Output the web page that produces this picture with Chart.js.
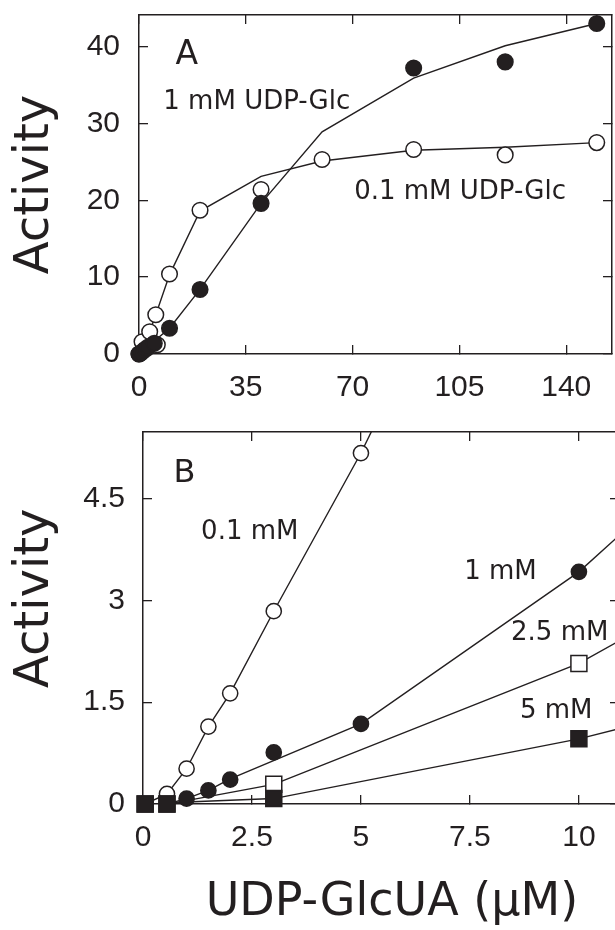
<!DOCTYPE html>
<html>
<head>
<meta charset="utf-8">
<script src="https://cdn.jsdelivr.net/npm/chart.js@4/dist/chart.umd.min.js"></script>
<style>
html, body { margin: 0; padding: 0; background: #fff; overflow: hidden; width: 615px; height: 930px; }
canvas { position: absolute; left: 0; }
#chartA { top: 0; }
#chartB { top: 420px; }
</style>
</head>
<body>
<canvas id="chartA" width="630" height="420"></canvas>
<canvas id="chartB" width="630" height="510"></canvas>
<script>
// ---- panel A : UDP-GlcUA up to 150 uM
var xTicksA = [0, 35, 70, 105, 140]
var yTicksA = [0, 10, 20, 30, 40]

// 1 mM UDP-Glc (filled circles)
var aFilledX = [0, 0.5, 1, 2, 3, 5, 10, 20, 40, 90, 120, 150]
var aFilledY = [0, 0.1, 0.3, 0.6, 0.9, 1.4, 3.35, 8.4, 19.6, 37.2, 38.0, 43.0]
var aFilledFitX = [0, 10, 20, 40, 60, 90, 120, 150]
var aFilledFitY = [0, 3.35, 8.4, 19.6, 28.9, 35.9, 40.1, 43.0]

// 0.1 mM UDP-Glc (open circles)
var aOpenX = [0, 1, 3.5, 5.5, 6, 10, 20, 40, 60, 90, 120, 150]
var aOpenY = [0, 1.6, 2.9, 5.1, 1.2, 10.4, 18.7, 21.4, 25.3, 26.6, 25.9, 27.5]
var aOpenFitX = [0, 1, 3.5, 5.5, 10, 20, 40, 60, 90, 120, 150]
var aOpenFitY = [0, 1.6, 2.9, 5.1, 10.3, 18.6, 23.1, 25.1, 26.5, 26.9, 27.5]

// ---- panel B : low UDP-GlcUA
var xTicksB = [0, 2.5, 5, 7.5, 10]
var yTicksB = [0, 1.5, 3, 4.5]

// 0.1 mM (open circles)
var b01X = [0.55, 1, 1.5, 2, 3, 5]
var b01Y = [0.15, 0.52, 1.14, 1.63, 2.84, 5.17]
var b01FitX = [0.05, 0.55, 1, 1.5, 2, 3, 5, 7]
var b01FitY = [0, 0.15, 0.52, 1.14, 1.63, 2.84, 5.17, 7.8]

// 1 mM (filled circles)
var b1X = [1, 1.5, 2, 3, 5, 10]
var b1Y = [0.08, 0.2, 0.36, 0.76, 1.18, 3.42]
var b1FitX = [0.05, 0.55, 1, 1.5, 2, 5, 10, 11]
var b1FitY = [0, 0, 0.08, 0.2, 0.37, 1.18, 3.42, 4.0]

// 2.5 mM (open squares)
var b25X = [0.05, 0.55, 3, 10]
var b25Y = [0, 0, 0.29, 2.07]
var b25FitX = [0.05, 0.55, 1, 3, 10, 11]
var b25FitY = [0, 0, 0.05, 0.29, 2.07, 2.43]

// 5 mM (filled squares)
var b5X = [0.05, 0.55, 3, 10]
var b5Y = [0, 0, 0.08, 0.96]
var b5FitX = [0.05, 0.55, 1, 3, 10, 11]
var b5FitY = [0, 0, 0.03, 0.08, 0.96, 1.12]

var ink = '#231f20'
var tickFont = { family: 'Liberation Sans', size: 30 }

function pts(xs, ys) {
	return xs.map(function (x, i) { return { x: x, y: ys[i] } })
}
//markers only
function marks(xs, ys, style, fill, r) {
	return {
		data: pts(xs, ys), showLine: false, clip: false,
		pointStyle: style, pointRadius: r, pointHoverRadius: r,
		pointBackgroundColor: fill, pointBorderColor: ink, pointBorderWidth: 1.5
	}
}
//fitted line, no markers
function fit(xs, ys) {
	return {
		data: pts(xs, ys), showLine: true, clip: 0,
		borderColor: ink, borderWidth: 1.4, pointRadius: 0, pointHoverRadius: 0, tension: 0
	}
}

function axis(pos, min, max, list, size, labels, pad, title) {
	var horiz = pos == 'top' || pos == 'bottom'
	return {
		type: 'linear', position: pos, min: min, max: max,
		afterBuildTicks: function (s) { s.ticks = list.map(function (v) { return { value: v } }) },
		afterFit: function (s) {
			if (horiz) s.height = size; else s.width = size
			// keep the plot box where it is, labels may overhang
			s.paddingTop = s.paddingBottom = s.paddingLeft = s.paddingRight = 0
		},
		grid: { drawOnChartArea: false, drawTicks: true, tickLength: -9, color: ink, lineWidth: 1.3 },
		border: { display: true, color: ink, width: 1.5 },
		ticks: {
			display: labels, padding: pad, font: tickFont, color: ink,
			autoSkip: false, maxRotation: 0, callback: function (v) { return String(v) }
		},
		title: title || { display: false }
	}
}

function titleOpt(text, size, pad) {
	return { display: true, text: text, color: ink, font: { family: 'DejaVu Sans', size: size, lineHeight: 1 }, padding: pad }
}

//free text drawn at data positions (optional rotation in degrees)
function notes(list) {
	return {
		id: 'notes',
		afterDatasetsDraw: function (chart) {
			var ctx = chart.ctx
			list.forEach(function (n) {
				ctx.save()
				ctx.fillStyle = ink
				ctx.textAlign = 'center'
				ctx.textBaseline = 'middle'
				ctx.font = n[3] + 'px "DejaVu Sans"'
				ctx.translate(chart.scales.x.getPixelForValue(n[1]), chart.scales.y.getPixelForValue(n[2]))
				if (n[4]) ctx.rotate(n[4] * Math.PI / 180)
				ctx.fillText(n[0], 0, 0)
				ctx.restore()
			})
		}
	}
}

var common = {
	responsive: false, animation: false, events: [],
	layout: { padding: 0, autoPadding: false },
	plugins: { legend: { display: false }, tooltip: { enabled: false } }
}

new Chart(document.getElementById('chartA'), {
	type: 'scatter',
	data: {
		datasets: [
			marks(aFilledX, aFilledY, 'circle', ink, 7.8),
			marks(aOpenX, aOpenY, 'circle', '#fff', 7.8),
			fit(aFilledFitX, aFilledFitY),
			fit(aOpenFitX, aOpenFitY)
		]
	},
	options: Object.assign({}, common, {
		scales: {
			x: axis('bottom', 0, 155, xTicksA, 66, true, 25),
			x2: axis('top', 0, 155, xTicksA, 15, false, 0),
			y: axis('left', 0, 44.1, yTicksA, 139, true, 28, titleOpt('Activity', 48, { top: 12, bottom: 0 })),
			y2: axis('right', 0, 44.1, yTicksA, 18, false, 0)
		}
	}),
	plugins: [notes([
		['A', 15.7, 38.9, 33],
		['1 mM UDP-Glc', 38.6, 32.7, 26],
		['0.1 mM UDP-Glc', 105.2, 21.1, 26]
	])]
})

// panel B titles sit off-centre in the original, so they go in as notes
new Chart(document.getElementById('chartB'), {
	type: 'scatter',
	data: {
		datasets: [
			marks(b5X, b5Y, 'rect', ink, 11.3),
			marks(b25X, b25Y, 'rect', '#fff', 11.3),
			marks(b1X, b1Y, 'circle', ink, 7.6),
			marks(b01X, b01Y, 'circle', '#fff', 7.6),
			fit(b01FitX, b01FitY),
			fit(b1FitX, b1FitY),
			fit(b25FitX, b25FitY),
			fit(b5FitX, b5FitY)
		]
	},
	options: Object.assign({}, common, {
		scales: {
			x: axis('bottom', 0, 10.92, xTicksB, 126, true, 24.5),
			x2: axis('top', 0, 10.92, xTicksB, 12, false, 0),
			y: axis('left', 0, 5.48, yTicksB, 143, true, 27),
			y2: axis('right', 0, 5.48, yTicksB, 11, false, 0)
		}
	}),
	plugins: [notes([
		['B', 0.95, 4.86, 32],
		['0.1 mM', 2.45, 4.01, 26],
		['1 mM', 8.2, 3.42, 26],
		['2.5 mM', 9.56, 2.52, 26],
		['5 mM', 9.48, 1.37, 26],
		['Activity', -2.46, 3.03, 48, -90],
		['UDP-GlcUA (\u03bcM)', 5.71, -1.465, 46]
	])]
})
</script>
</body>
</html>
